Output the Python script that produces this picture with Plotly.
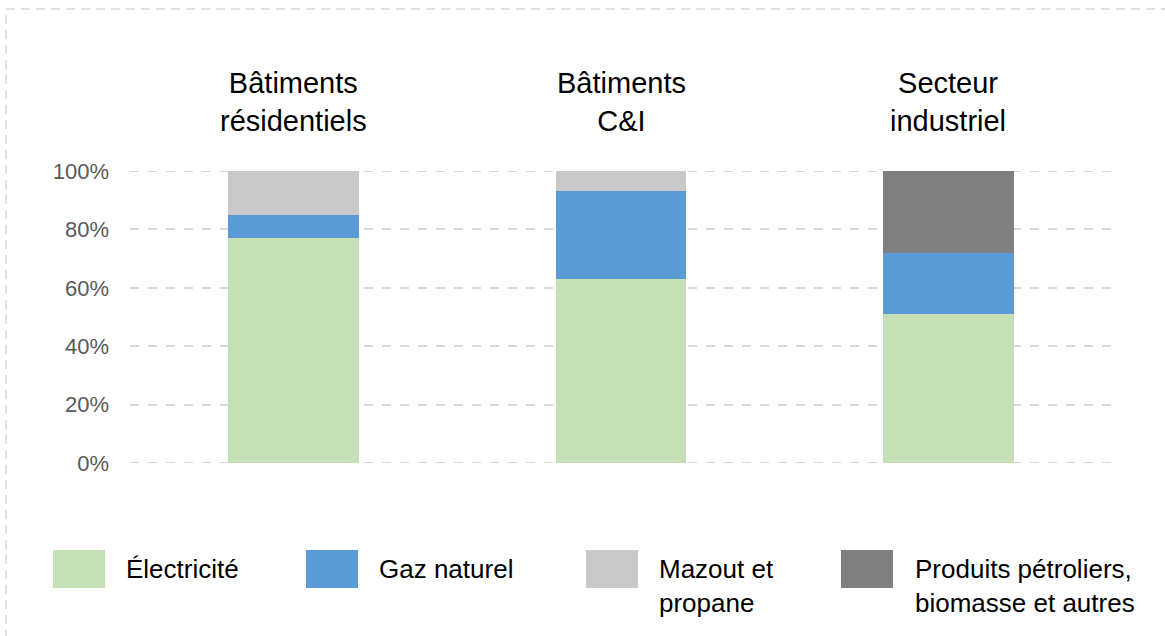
import plotly.graph_objects as go

categories = ["Bâtiments<br>résidentiels", "Bâtiments<br>C&I", "Secteur<br>industriel"]
series_names = ["Électricité", "Gaz naturel", "Mazout et<br>propane",
                "Produits pétroliers,<br>biomasse et autres"]
electricite = [77, 63, 51]
gaz_naturel = [8, 30, 21]
mazout_propane = [15, 7, 0]
produits_autres = [0, 0, 28]
y_ticks = [0, 20, 40, 60, 80, 100]
y_ticklabels = ["0%", "20%", "40%", "60%", "80%", "100%"]

colors = ["#c5e0b4", "#5b9bd5", "#c9c9c9", "#808080"]
values = [electricite, gaz_naturel, mazout_propane, produits_autres]

W, H = 1165, 636
L, R, T, B = 130, 53, 171, 173
pw, ph = W - L - R, H - T - B


def px(x):
    return (x - L) / pw


def py(y):
    return (H - B - y) / ph


fig = go.Figure()
for name, vals, col in zip(series_names, values, colors):
    fig.add_trace(go.Bar(
        x=list(range(len(categories))), y=vals, name=name,
        marker=dict(color=col, line_width=0), width=0.4,
    ))

# titles above bars
for i, cat in enumerate(categories):
    fig.add_annotation(x=i, xref="x", y=py(101.5), yref="paper", text=cat,
                       showarrow=False, yanchor="middle", xanchor="center",
                       font=dict(size=29, color="#000000"))

# legend drawn by hand (big swatches)
sw_x = [53, 306, 586, 841]
txt_x = [124, 377, 657, 913]
for name, col, sx, tx in zip(series_names, colors, sw_x, txt_x):
    fig.add_shape(type="rect", xref="paper", yref="paper",
                  x0=px(sx), x1=px(sx + 52), y0=py(588), y1=py(550),
                  fillcolor=col, line_width=0)
    fig.add_annotation(x=px(tx), xref="paper", y=py(552), yref="paper",
                       text=name, showarrow=False, xanchor="left", yanchor="top",
                       align="left", font=dict(size=26, color="#000000"))

# edge gridlines (plotly hides them at the range ends)
for v in (y_ticks[0], y_ticks[-1]):
    fig.add_shape(type="line", xref="paper", yref="y", x0=0, x1=1, y0=v, y1=v,
                  line=dict(color="#d9d9d9", width=2, dash="dash"), layer="below")

# dashed outer border
fig.add_shape(type="rect", xref="paper", yref="paper",
              x0=px(6), x1=px(1175), y0=py(650), y1=py(9),
              line=dict(color="#d9d9d9", width=1.5, dash="9px,6px"),
              fillcolor="rgba(0,0,0,0)", layer="below")

fig.update_layout(
    barmode="stack",
    width=W, height=H,
    margin=dict(l=L, r=R, t=T, b=B, pad=0),
    paper_bgcolor="white", plot_bgcolor="white",
    font=dict(family="Liberation Sans, Arial, sans-serif"),
    showlegend=False,
    bargap=0.6,
)
fig.update_xaxes(range=[-0.5, 2.5], showticklabels=False, showgrid=False,
                 zeroline=False, showline=False, ticks="")
fig.update_yaxes(range=[0, 100], tickvals=y_ticks, ticktext=y_ticklabels,
                 tickfont=dict(size=22, color="#595959"),
                 showgrid=True, gridcolor="#d9d9d9", gridwidth=2, griddash="dash",
                 zeroline=False, showline=False, ticks="", ticklabelstandoff=20)

fig.write_html("out.html", config={"displayModeBar": False},
               post_script="document.body.style.margin='0';")
